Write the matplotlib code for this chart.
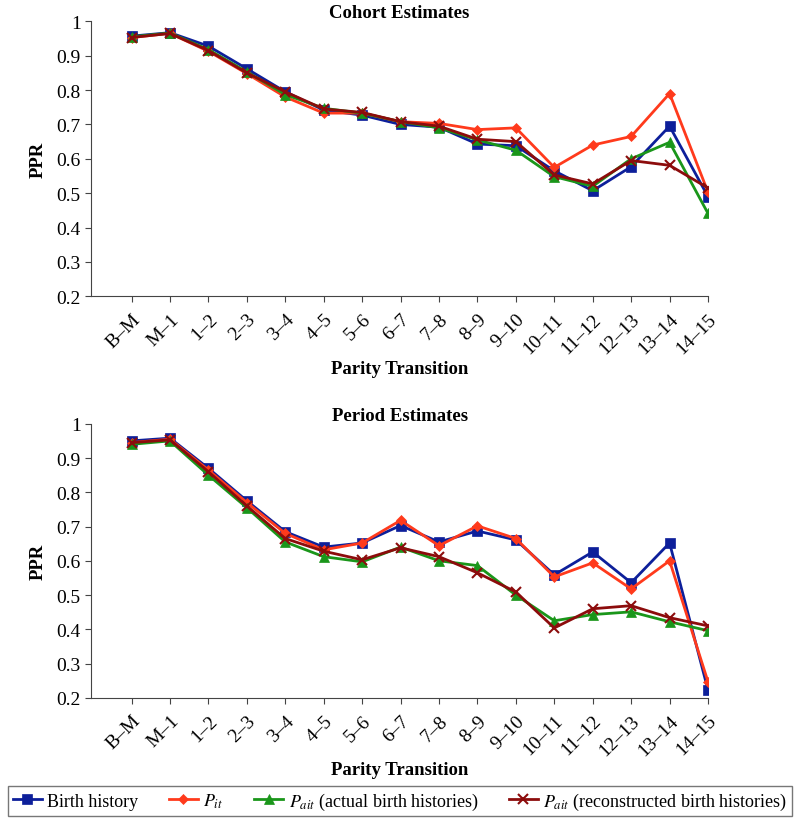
import matplotlib.pyplot as plt

plt.rcParams['font.family'] = ['Liberation Serif', 'DejaVu Serif']
plt.rcParams['mathtext.fontset'] = 'stix'

transitions = ["B–M", "M–1", "1–2", "2–3", "3–4", "4–5", "5–6", "6–7", "7–8",
               "8–9", "9–10", "10–11", "11–12", "12–13", "13–14", "14–15"]

# cohort estimates
cohort_birth = [0.957, 0.967, 0.928, 0.862, 0.795, 0.742, 0.727, 0.700, 0.692,
                0.643, 0.638, 0.565, 0.507, 0.577, 0.695, 0.490]
cohort_pit = [0.953, 0.965, 0.913, 0.848, 0.780, 0.733, 0.733, 0.708, 0.703,
              0.685, 0.690, 0.575, 0.640, 0.665, 0.790, 0.503]
cohort_pait_actual = [0.955, 0.966, 0.918, 0.853, 0.787, 0.747, 0.733, 0.708, 0.690,
                      0.655, 0.625, 0.548, 0.520, 0.600, 0.648, 0.441]
cohort_pait_recon = [0.953, 0.965, 0.915, 0.850, 0.795, 0.745, 0.735, 0.708, 0.695,
                     0.657, 0.650, 0.553, 0.527, 0.595, 0.581, 0.515]

# period estimates
period_birth = [0.950, 0.958, 0.870, 0.775, 0.685, 0.640, 0.652, 0.703, 0.655,
                0.687, 0.661, 0.559, 0.626, 0.536, 0.652, 0.223]
period_pit = [0.945, 0.955, 0.865, 0.770, 0.680, 0.632, 0.652, 0.718, 0.644,
              0.702, 0.665, 0.553, 0.594, 0.518, 0.600, 0.247]
period_pait_actual = [0.940, 0.950, 0.850, 0.755, 0.655, 0.612, 0.597, 0.640, 0.600,
                      0.586, 0.500, 0.425, 0.443, 0.451, 0.422, 0.396]
period_pait_recon = [0.945, 0.953, 0.860, 0.760, 0.665, 0.628, 0.603, 0.638, 0.612,
                     0.565, 0.509, 0.404, 0.460, 0.469, 0.434, 0.410]

styles = [
    ("Birth history", "#0d1f9a", "s", 6.5),
    (r"$P_{it}$", "#ff3a1c", "D", 5),
    (r"$P_{ait}$ (actual birth histories)", "#1a961a", "^", 7),
    (r"$P_{ait}$ (reconstructed birth histories)", "#8c0c0c", "x", 6.5),
]

fig = plt.figure(figsize=(8, 8.28), dpi=100)
ax1 = fig.add_axes([0.114, 0.641, 0.771, 0.332])
ax2 = fig.add_axes([0.114, 0.156, 0.771, 0.331])

x = list(range(len(transitions)))
panels = [
    (ax1, "Cohort Estimates", [cohort_birth, cohort_pit, cohort_pait_actual, cohort_pait_recon]),
    (ax2, "Period Estimates", [period_birth, period_pit, period_pait_actual, period_pait_recon]),
]

for ax, title, series in panels:
    for vals, (label, color, marker, ms) in zip(series, styles):
        ax.plot(x, vals, color=color, marker=marker, markersize=ms, linewidth=2,
                markeredgewidth=1.5 if marker == "x" else 0.5, label=label)
    ax.set_ylim(0.2, 1.0)
    ax.set_xlim(-1.05, len(transitions) - 1)
    ax.set_yticks([0.2, 0.3, 0.4, 0.5, 0.6, 0.7, 0.8, 0.9, 1.0])
    ax.set_yticklabels(["0.2", "0.3", "0.4", "0.5", "0.6", "0.7", "0.8", "0.9", "1"])
    ax.set_xticks(x)
    ax.set_xticklabels(transitions, rotation=45, ha="right", rotation_mode="anchor")
    ax.tick_params(labelsize=14, length=4, color="#444444")
    ax.tick_params(axis="x", pad=6)
    ax.spines["top"].set_visible(False)
    ax.spines["right"].set_visible(False)
    ax.spines["left"].set_color("#444444")
    ax.spines["bottom"].set_color("#444444")
    ax.set_title(title, fontsize=13.5, fontweight="bold", pad=-2)
    ax.set_ylabel("PPR", fontsize=13.5, fontweight="bold", labelpad=7)
    ax.set_xlabel("Parity Transition", fontsize=13.5, fontweight="bold", labelpad=2)

handles, labels = ax1.get_legend_handles_labels()
leg = fig.legend(handles, labels, loc="lower center", ncol=4, fontsize=13,
                 bbox_to_anchor=(0.5, 0.002), frameon=True, fancybox=False,
                 edgecolor="#555555", handlelength=1.6, handletextpad=0.3,
                 columnspacing=1.7, borderpad=0.25)

fig.savefig("out.png", dpi=100)
